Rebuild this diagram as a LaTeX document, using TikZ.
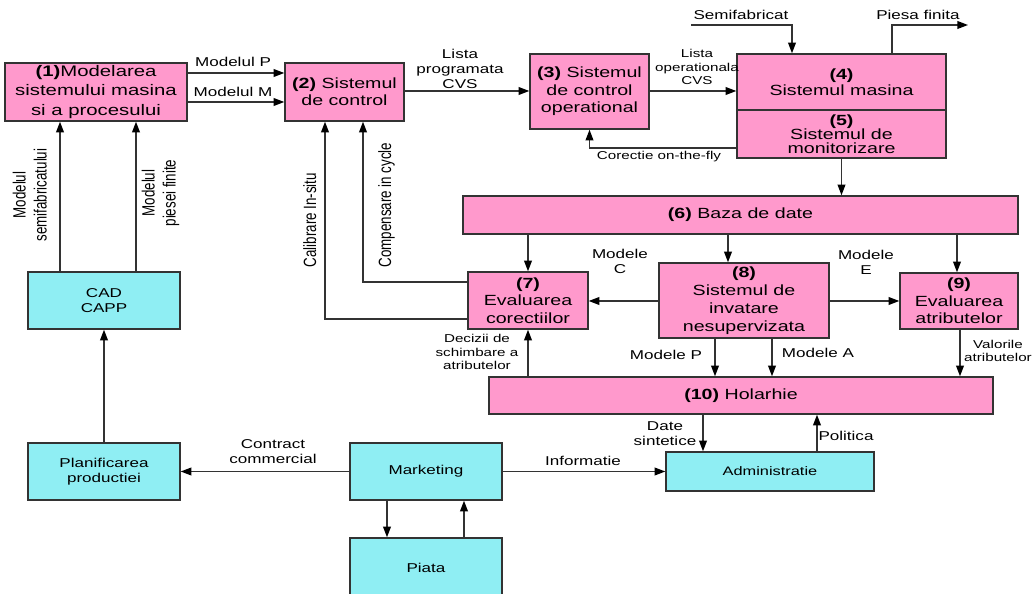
\documentclass[tikz,border=0pt]{standalone}
\usepackage{fontspec}
\setmainfont[FakeStretch=1.33]{Liberation Sans}
\newfontfamily\plainsans{Liberation Sans}
\usepackage{graphicx}
\usetikzlibrary{arrows.meta}

\definecolor{boxpink}{HTML}{FF99CC}
\definecolor{boxcyan}{HTML}{8FEEF3}
\definecolor{linegray}{HTML}{333333}

% vertical labels: one column, widened across the line
\newcommand{\vlabel}[1]{\scalebox{1}[1.33]{\begin{tabular}{@{}c@{}}#1\end{tabular}}}

\tikzset{
  pinkbox/.style={draw=linegray, line width=0.85pt, fill=boxpink, inner sep=0pt,
    align=center, font=\fontsize{8.4}{9.9}\selectfont},
  cyanbox/.style={draw=linegray, line width=0.85pt, fill=boxcyan, inner sep=0pt,
    align=center, font=\fontsize{7.3}{8.8}\selectfont},
  flow/.style={draw=linegray, line width=0.7pt,
    -{Triangle[length=6pt, width=4.4pt, color=black]}},
  lbl/.style={font=\fontsize{7.3}{8.6}\selectfont, align=center, inner sep=0pt},
  tinylbl/.style={font=\fontsize{6.5}{7.7}\selectfont, align=center, inner sep=0pt},
  rotlbl/.style={rotate=90, font=\plainsans\fontsize{7.6}{9}\selectfont, inner sep=0pt},
}

\begin{document}
\begin{tikzpicture}[x=0.02cm, y=-0.02cm]
  \useasboundingbox (0,0) rectangle (1036,594);

  % processing chain
  \node[pinkbox, minimum width=3.64cm, minimum height=1.16cm,
        font=\fontsize{8.7}{11}\selectfont] (model) at (96,92)
    {\textbf{(1)}Modelarea\\sistemului masina\\si a procesului};
  \node[pinkbox, minimum width=2.38cm, minimum height=1.16cm] (ctrl) at (344.5,92)
    {\textbf{(2)} Sistemul\\de control};
  \node[pinkbox, minimum width=2.38cm, minimum height=1.5cm] (opctrl) at (589.5,91.5)
    {\textbf{(3)} Sistemul\\de control\\operational};
  \node[pinkbox, minimum width=4.18cm, minimum height=1.12cm,
        font=\fontsize{8.4}{9}\selectfont] (masina) at (841.5,82)
    {\textbf{(4)}\\Sistemul masina};
  \node[pinkbox, minimum width=4.18cm, minimum height=0.96cm,
        font=\fontsize{8.4}{8}\selectfont] (monit) at (841.5,134)
    {\textbf{(5)}\\Sistemul de\\monitorizare};
  \node[pinkbox, minimum width=11.1cm, minimum height=0.76cm] (baza) at (740.5,215)
    {\textbf{(6)} Baza de date};
  \node[pinkbox, minimum width=2.4cm, minimum height=1.14cm] (evcor) at (528,300.5)
    {\textbf{(7)}\\Evaluarea\\corectiilor};
  \node[pinkbox, minimum width=3.4cm, minimum height=1.5cm,
        font=\fontsize{8.4}{10.2}\selectfont] (invat) at (744,300.5)
    {\textbf{(8)}\\Sistemul de\\invatare\\nesupervizata};
  \node[pinkbox, minimum width=2.36cm, minimum height=1.12cm] (evatr) at (959,301)
    {\textbf{(9)}\\Evaluarea\\atributelor};
  \node[pinkbox, minimum width=10.08cm, minimum height=0.74cm] (holar) at (741,395.5)
    {\textbf{(10)} Holarhie};

  % planning and market side
  \node[cyanbox, minimum width=3.04cm, minimum height=1.14cm] (cad) at (104,300.5)
    {CAD\\CAPP};
  \node[cyanbox, minimum width=3.04cm, minimum height=1.14cm] (plan) at (104,471.5)
    {Planificarea\\productiei};
  \node[cyanbox, minimum width=3.04cm, minimum height=1.14cm] (mkt) at (426,471.5)
    {Marketing};
  \node[cyanbox, minimum width=3.04cm, minimum height=1.2cm] (piata) at (426,568)
    {Piata};
  \node[cyanbox, minimum width=4.16cm, minimum height=0.78cm,
        font=\fontsize{7}{8.4}\selectfont] (admin) at (770,471.5)
    {Administratie};

  \coordinate (semi) at (691,25);
  \coordinate (piesa) at (968,25);

  % top row
  \draw[flow] (model.east |- 0,73) -- (ctrl.west |- 0,73);
  \draw[flow] (model.east |- 0,102) -- (ctrl.west |- 0,102);
  \draw[flow] (ctrl.east |- 0,91) -- (opctrl.west |- 0,91);
  \draw[flow] (opctrl.east |- 0,91) -- (masina.west |- 0,91);
  \draw[flow] (semi) -| (792,0 |- masina.north);
  \draw[flow] (masina.north -| 892,0) |- (piesa);
  \draw[flow] (monit.west |- 0,148) -| (opctrl.south);
  \draw[flow] (monit.south) -- (monit.south |- baza.north);

  % data base and learning
  \draw[flow] (baza.south -| evcor.north) -- (evcor.north);
  \draw[flow] (baza.south -| 728,0) -- (invat.north -| 728,0);
  \draw[flow] (baza.south -| 957,0) -- (evatr.north -| 957,0);
  \draw[flow] (invat.west |- 0,301) -- (evcor.east |- 0,301);
  \draw[flow] (invat.east |- 0,301) -- (evatr.west |- 0,301);
  \draw[flow] (invat.south -| 715,0) -- (holar.north -| 715,0);
  \draw[flow] (invat.south -| 772,0) -- (holar.north -| 772,0);
  \draw[flow] (evatr.south -| 960,0) -- (holar.north -| 960,0);
  \draw[flow] (holar.north -| evcor.south) -- (evcor.south);

  % feedback to the controller
  \draw[flow] (evcor.west |- 0,282) -| (ctrl.south -| 363,0);
  \draw[flow] (evcor.west |- 0,319) -| (ctrl.south -| 325,0);

  % left column and bottom row
  \draw[flow] (cad.north -| 60,0) -- (model.south -| 60,0);
  \draw[flow] (cad.north -| 136,0) -- (model.south -| 136,0);
  \draw[flow] (plan.north) -- (cad.south);
  \draw[flow] (mkt.west) -- (plan.east);
  \draw[flow] (mkt.east) -- (admin.west);
  \draw[flow] (mkt.south -| 387,0) -- (piata.north -| 387,0);
  \draw[flow] (piata.north -| 464,0) -- (mkt.south -| 464,0);
  \draw[flow] (holar.south -| 703,0) -- (admin.north -| 703,0);
  \draw[flow] (admin.north -| 817,0) -- (holar.south -| 817,0);

  % connector labels
  \node[lbl] (lmp) at (233,62) {Modelul P};
  \node[lbl] (lmm) at (233,92) {Modelul M};
  \node[lbl] (lprog) at (460,69) {Lista\\programata\\CVS};
  \node[tinylbl] (lop) at (697,67) {Lista\\operationala\\CVS};
  \node[lbl] (lsemi) at (741,15) {Semifabricat};
  \node[lbl] (lpiesa) at (918,15) {Piesa finita};
  \node[tinylbl] (lcor) at (659,157) {Corectie on-the-fly};
  \node[lbl] (lmc) at (620,261) {Modele\\C};
  \node[lbl] (lme) at (866,262) {Modele\\E};
  \node[lbl] (lmdp) at (666,355) {Modele P};
  \node[lbl] (lmda) at (818,353) {Modele A};
  \node[tinylbl] (lval) at (998,351) {Valorile\\atributelor};
  \node[tinylbl] (ldec) at (477,352) {Decizii de\\schimbare a\\atributelor};
  \node[lbl] (ldate) at (665,434) {Date\\sintetice};
  \node[lbl] (lpol) at (846,436) {Politica};
  \node[lbl] (lcon) at (273,452) {Contract\\commercial};
  \node[lbl] (linf) at (583,461) {Informatie};
  \node[rotlbl] (lsemf) at (32,195) {\vlabel{Modelul\\semifabricatului}};
  \node[rotlbl] (lpfin) at (161,193) {\vlabel{Modelul\\piesei finite}};
  \node[rotlbl] (lcal) at (312,220) {\vlabel{Calibrare In-situ}};
  \node[rotlbl] (lcomp) at (387,205) {\vlabel{Compensare in cycle}};
\end{tikzpicture}
\end{document}
